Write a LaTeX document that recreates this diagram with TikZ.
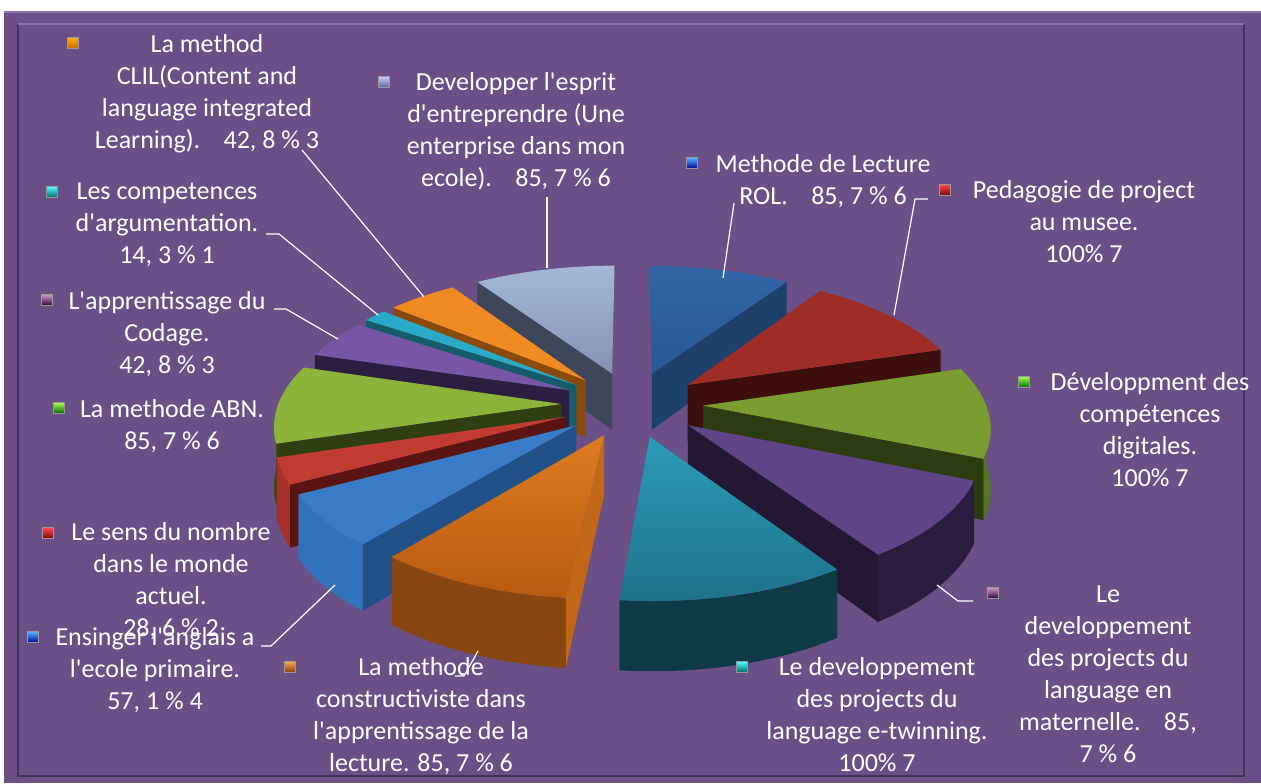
\documentclass[tikz,border=0pt]{standalone}
\usepackage{fontspec}
\setmainfont{Carlito}
\usetikzlibrary{positioning}

\definecolor{chartbg}{HTML}{6A5086}
\definecolor{framehi}{HTML}{8C72AC}
\definecolor{framelo}{HTML}{45335E}
\newcommand\apos{\textquotesingle}

% one exploded slice: from, to, top, outer side, radial side
\newcommand\pieslice[5]{%
  \pgfmathsetmacro\pbis{(#1+#2)/2}%
  \pgfmathtruncatemacro\pvisa{sin(#1)<0}%
  \pgfmathtruncatemacro\pvisb{sin(#2)>0}%
  \pgfmathsetmacro\pfa{max(#1,90)}%
  \pgfmathsetmacro\pfb{min(#2,270)}%
  \pgfmathtruncatemacro\pvisc{\pfa<\pfb}%
  \coordinate (ctop) at ({pX(0,0,\pbis)},{pY(0,0,\pbis,0)});
  \coordinate (cbot) at ({pX(0,0,\pbis)},{pY(0,0,\pbis,1)});
  \ifnum\pvisa=1
    \path[#5] (ctop) -- ({pX(#1,1,\pbis)},{pY(#1,1,\pbis,0)}) -- ({pX(#1,1,\pbis)},{pY(#1,1,\pbis,1)}) -- (cbot) -- cycle;
  \fi
  \ifnum\pvisb=1
    \path[#5] (ctop) -- ({pX(#2,1,\pbis)},{pY(#2,1,\pbis,0)}) -- ({pX(#2,1,\pbis)},{pY(#2,1,\pbis,1)}) -- (cbot) -- cycle;
  \fi
  \ifnum\pvisc=1
    \path[#4] plot[domain=\pfa:\pfb,samples=20] ({pX(\x,1,\pbis)},{pY(\x,1,\pbis,0)})
      -- plot[domain=\pfb:\pfa,samples=20] ({pX(\x,1,\pbis)},{pY(\x,1,\pbis,1)}) -- cycle;
  \fi
  \path[#3] (ctop) -- plot[domain=#1:#2,samples=30] ({pX(\x,1,\pbis)},{pY(\x,1,\pbis,0)}) -- cycle;
}

\begin{document}
\begin{tikzpicture}
[x=0.5pt,y=-0.5pt,
declare function={
  pU(\tA,\rA,\bA)=0.25*sin(\bA)+\rA*sin(\tA);
  pV(\tA,\rA,\bA)=0.25*cos(\bA)+\rA*cos(\tA);
  pW(\tA,\rA,\bA)=1/(1+0.14*pV(\tA,\rA,\bA));
  pX(\tA,\rA,\bA)=632+283*pU(\tA,\rA,\bA)*pW(\tA,\rA,\bA);
  pY(\tA,\rA,\bA,\zA)=404+(58*\zA-131*pV(\tA,\rA,\bA))*pW(\tA,\rA,\bA);},
lbl/.style={text=white,align=center,inner sep=0pt,font=\fontsize{13}{16}\selectfont},
key/.style={minimum size=5.5pt,inner sep=0pt,draw=black!40,line width=0.2pt},
leader/.style={white,line width=0.6pt}]
\useasboundingbox (0,0) rectangle (1261,783);
\fill[white] (0,0) rectangle (1261,783);
\fill[chartbg] (4,11) rectangle (1261,783);
\draw[framehi,line width=1pt] (4,12) -- (1261,12);
\draw[framelo,line width=1pt] (18,24) -- (18,776) -- (1244,776) -- (1244,24);
\draw[framehi,line width=1pt] (18,24) -- (1244,24);

% slices, back to front
\pieslice{0}{33.75}{top color={rgb,255:red,50;green,102;blue,166},bottom color={rgb,255:red,40;green,88;blue,148}}{fill={rgb,255:red,35;green,76;blue,128}}{fill={rgb,255:red,30;green,65;blue,108}}
\pieslice{326.25}{360}{top color={rgb,255:red,165;green,184;blue,216},bottom color={rgb,255:red,130;green,146;blue,178}}{fill={rgb,255:red,90;green,102;blue,128}}{fill={rgb,255:red,61;green,71;blue,89}}
\pieslice{309.375}{326.25}{fill={rgb,255:red,240;green,138;blue,34}}{fill={rgb,255:red,176;green,94;blue,16}}{fill={rgb,255:red,138;green,74;blue,12}}
\pieslice{33.75}{73.125}{fill={rgb,255:red,158;green,45;blue,40}}{fill={rgb,255:red,90;green,21;blue,18}}{fill={rgb,255:red,60;green,14;blue,12}}
\pieslice{303.75}{309.375}{fill={rgb,255:red,42;green,170;blue,201}}{fill={rgb,255:red,26;green,120;blue,144}}{fill={rgb,255:red,20;green,92;blue,108}}
\pieslice{286.875}{303.75}{fill={rgb,255:red,119;green,87;blue,165}}{fill={rgb,255:red,90;green,63;blue,128}}{fill={rgb,255:red,44;green,30;blue,64}}
\pieslice{253.125}{286.875}{fill={rgb,255:red,141;green,180;blue,58}}{fill={rgb,255:red,58;green,76;blue,22}}{fill={rgb,255:red,47;green,63;blue,18}}
\pieslice{73.125}{112.5}{fill={rgb,255:red,123;green,156;blue,48}}{fill={rgb,255:red,86;green,117;blue,31}}{fill={rgb,255:red,45;green,59;blue,16}}
\pieslice{241.875}{253.125}{fill={rgb,255:red,192;green,59;blue,50}}{fill={rgb,255:red,168;green,48;blue,42}}{fill={rgb,255:red,90;green,20;blue,18}}
\pieslice{112.5}{146.25}{fill={rgb,255:red,95;green,69;blue,136}}{fill={rgb,255:red,43;green,29;blue,63}}{fill={rgb,255:red,35;green,23;blue,51}}
\pieslice{219.375}{241.875}{fill={rgb,255:red,58;green,124;blue,198}}{fill={rgb,255:red,50;green,114;blue,186}}{fill={rgb,255:red,34;green,81;blue,138}}
\pieslice{185.625}{219.375}{top color={rgb,255:red,222;green,124;blue,32},bottom color={rgb,255:red,184;green,90;blue,16}}{fill={rgb,255:red,138;green,70;blue,16}}{fill={rgb,255:red,192;green,104;blue,24}}
\pieslice{146.25}{185.625}{top color={rgb,255:red,43;green,155;blue,183},bottom color={rgb,255:red,31;green,114;blue,140}}{fill={rgb,255:red,15;green,58;blue,71}}{fill={rgb,255:red,12;green,47;blue,58}}

% legend keys
\node[key,top color=orange!60!yellow,bottom color=orange!80!black] (k-clil) at (73,43) {};
\node[key,top color=white!80!blue,bottom color=blue!25!gray] (k-esprit) at (384,82) {};
\node[key,top color=blue!40!cyan!70,bottom color=blue!60!black] (k-rol) at (692,163) {};
\node[key,top color=red!70,bottom color=red!50!black] (k-musee) at (945,190) {};
\node[key,top color=green!50!yellow!70,bottom color=green!40!black] (k-digit) at (1024,382) {};
\node[key,top color=violet!40,bottom color=violet!40!black] (k-mater) at (993,593) {};
\node[key,top color=cyan!70,bottom color=cyan!40!black] (k-etwin) at (742,667) {};
\node[key,top color=orange!70,bottom color=orange!50!black] (k-constr) at (290,667) {};
\node[key,top color=blue!40!cyan!70,bottom color=blue!60!black] (k-anglais) at (33,637) {};
\node[key,top color=red!70,bottom color=red!50!black] (k-sens) at (48,533) {};
\node[key,top color=green!50!yellow!70,bottom color=green!40!black] (k-abn) at (59,408) {};
\node[key,top color=violet!40,bottom color=violet!40!black] (k-codage) at (47,300) {};
\node[key,top color=cyan!70,bottom color=cyan!40!black] (k-argum) at (52,192) {};

% labels
\node[lbl] (clil) at (207,94) {La method\\CLIL(Content and\\language integrated\\Learning).\hspace{0.9em}42, 8 \% 3};
\node[lbl] (esprit) at (516,131) {Developper l\apos esprit\\d\apos entreprendre (Une\\enterprise dans mon\\ecole).\hspace{0.9em}85, 7 \% 6};
\node[lbl] (rol) at (823,181) {Methode de Lecture\\ROL.\hspace{0.9em}85, 7 \% 6};
\node[lbl] (musee) at (1084,222) {Pedagogie de project\\au musee.\\100\% 7};
\node[lbl] (digit) at (1150,430) {Développment des\\compétences\\digitales.\\100\% 7};
\node[lbl] (mater) at (1108,674) {Le\\developpement\\des projects du\\language en\\maternelle.\hspace{0.9em}85,\\7 \% 6};
\node[lbl] (etwin) at (877,715) {Le developpement\\des projects du\\language e-twinning.\\100\% 7};
\node[lbl] (constr) at (421,716) {La methode\\constructiviste dans\\l\apos apprentissage de la\\lecture. 85, 7 \% 6};
\node[lbl] (anglais) at (155,670) {Ensinger l\apos anglais a\\l\apos ecole primaire.\\57, 1 \% 4};
\node[lbl] (sens) at (171,581) {Le sens du nombre\\dans le monde\\actuel.\\28, 6 \% 2};
\node[lbl] (abn) at (172,426) {La methode ABN.\\85, 7 \% 6};
\node[lbl] (codage) at (167,334) {L\apos apprentissage du\\Codage.\\42, 8 \% 3};
\node[lbl] (argum) at (167,225) {Les competences\\d\apos argumentation.\\14, 3 \% 1};

% leader lines
\coordinate (clil-a) at (302,150);   \coordinate (clil-b) at (424,297);
\coordinate (argum-a) at (266,234);  \coordinate (argum-b) at (279,234);  \coordinate (argum-c) at (378,315);
\coordinate (codage-a) at (274,309); \coordinate (codage-b) at (286,309); \coordinate (codage-c) at (338,339);
\coordinate (esprit-a) at (547,197); \coordinate (esprit-b) at (547,268);
\coordinate (rol-a) at (734,203);    \coordinate (rol-b) at (723,278);
\coordinate (musee-a) at (928,199);  \coordinate (musee-b) at (915,199);  \coordinate (musee-c) at (894,315);
\coordinate (mater-a) at (973,601);  \coordinate (mater-b) at (958,601);  \coordinate (mater-c) at (937,585);
\coordinate (constr-a) at (455,676); \coordinate (constr-b) at (464,676); \coordinate (constr-c) at (478,651);
\coordinate (anglais-a) at (261,646); \coordinate (anglais-b) at (271,646); \coordinate (anglais-c) at (335,585);

\draw[leader] (clil-a) -- (clil-b);
\draw[leader] (argum-a) -- (argum-b) -- (argum-c);
\draw[leader] (codage-a) -- (codage-b) -- (codage-c);
\draw[leader] (esprit-a) -- (esprit-b);
\draw[leader] (rol-a) -- (rol-b);
\draw[leader] (musee-a) -- (musee-b) -- (musee-c);
\draw[leader] (mater-a) -- (mater-b) -- (mater-c);
\draw[leader] (constr-a) -- (constr-b) -- (constr-c);
\draw[leader] (anglais-a) -- (anglais-b) -- (anglais-c);
\end{tikzpicture}
\end{document}
